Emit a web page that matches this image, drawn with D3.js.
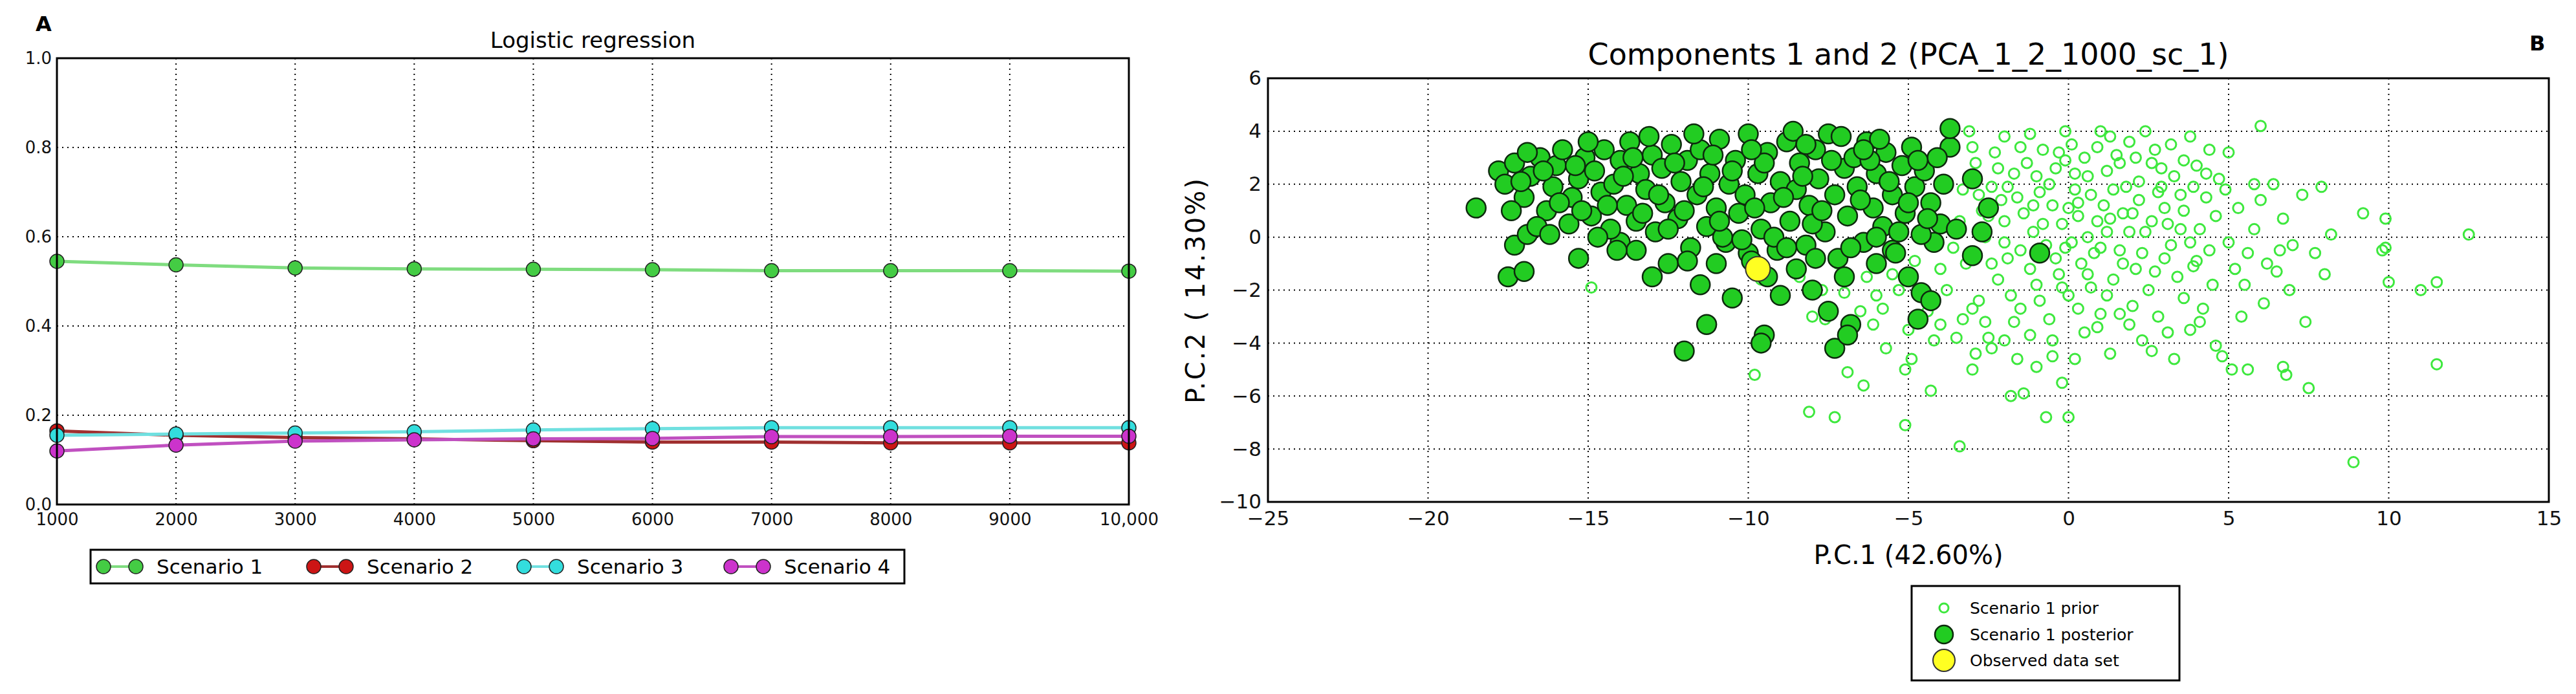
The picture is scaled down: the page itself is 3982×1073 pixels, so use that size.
<!DOCTYPE html>
<html><head><meta charset="utf-8">
<script src="https://cdn.jsdelivr.net/npm/d3@7"></script>
<style>body{margin:0;background:#fff}text{font-family:"DejaVu Sans",sans-serif}</style>
</head><body><svg id="c" width="3982" height="1073"></svg>
<script>
// panel A data
var steps = [1000,2000,3000,4000,5000,6000,7000,8000,9000,10000];
var stepLabels = ["1000","2000","3000","4000","5000","6000","7000","8000","9000","10,000"];
var scenario1 = [0.545,0.537,0.530,0.528,0.527,0.526,0.524,0.524,0.524,0.523];
var scenario2 = [0.165,0.155,0.150,0.147,0.143,0.140,0.140,0.138,0.138,0.138];
var scenario3 = [0.155,0.158,0.160,0.163,0.167,0.170,0.172,0.172,0.172,0.172];
var scenario4 = [0.120,0.133,0.142,0.145,0.147,0.148,0.152,0.152,0.153,0.153];
var seriesNames = ["Scenario 1","Scenario 2","Scenario 3","Scenario 4"];

// panel B data
var posterior = [[-18.5,1.1],[-17.5,-1.5],[-17,-1.3],[-17.3,-0.3],[-16.9,0.1],[-15.3,-0.8],[-13,-1.5],[-12,-4.3],[-11.3,-3.3],[-10.5,-2.3],[-9.5,-3.7],[-9.6,-4.0],[-9,-2.2],[-8,-2.0],[-7.5,-2.8],[-7.3,-4.2],[-6.8,-3.3],[-6.9,-3.7],[-5,-1.5],[-4.6,-2.1],[-4.7,-3.1],[-4.3,-2.4],[-3,-0.7],[-2.7,0.2],[-2.5,1.1],[-3,2.2],[-3.7,3.4],[-3.7,4.1],[-0.9,-0.6],[-12.5,-1.0],[-11.5,-1.8],[-14,-0.2],[-7,-1.5],[-8.5,-1.2],[-6,-1.0],[-5.5,-0.5],[-10,-0.6],[-11,-1],[-13.5,-0.5],[-4.2,-0.2],[-4,0.5],[-3.5,0.3],
[-17.8,2.5],[-17.6,2.0],[-17.3,2.8],[-17.0,1.5],[-16.8,2.3],[-16.5,3.0],[-16.3,1.0],[-16.1,1.9],[-16.0,2.7],[-15.8,3.3],[-15.6,0.5],[-15.5,1.5],[-15.3,2.2],[-15.1,3.0],[-14.9,0.8],[-14.8,2.5],[-14.6,1.7],[-14.5,3.3],[-14.3,0.3],[-14.2,2.0],[-14.0,2.9],[-13.8,1.2],[-13.7,3.6],[-13.5,0.6],[-13.4,2.4],[-13.2,1.8],[-13.0,3.1],[-12.9,0.2],[-12.7,2.6],[-12.6,1.3],[-12.4,3.5],[-12.2,0.7],[-12.1,2.1],[-11.9,2.9],[-11.8,-0.4],[-11.6,1.6],[-11.5,3.3],[-11.3,0.4],[-11.2,2.4],[-11.0,1.1],[-10.9,3.7],[-10.7,-0.2],[-10.6,2.0],[-10.4,2.9],[-10.3,0.9],[-10.1,1.6],[-10.0,3.9],[-9.9,-0.9],[-9.7,2.4],[-9.6,0.3],[-9.4,3.2],[-9.3,1.3],[-9.1,-0.5],[-9.0,2.1],[-8.8,3.6],[-8.7,0.6],[-8.5,1.8],[-8.4,2.8],[-8.2,-0.3],[-8.1,1.2],[-7.9,3.3],[-7.8,2.2],[-7.6,0.2],[-7.5,3.9],[-7.3,1.6],[-7.2,-0.8],[-7.0,2.6],[-6.9,0.8],[-6.7,3.0],[-6.6,1.9],[-6.4,-0.2],[-6.3,3.6],[-6.1,1.1],[-6.0,2.4],[-5.8,0.4],[-5.7,3.2],[-5.5,1.6],[-5.4,-0.6],[-5.2,2.7],[-5.1,0.9],[-4.9,3.4],[-4.8,1.9],[-4.6,0.1],[-4.5,2.5],[-4.3,1.3],[-4.1,3.0],[-3.9,2.0],[-16.9,3.2],[-15.0,3.6],[-13.1,3.8],[-11.7,3.9],[-8.6,4.0],[-7.1,3.8],[-5.9,3.7],[-12.0,1.0],[-10.8,0.0],[-9.2,0.0],[-8.0,0.5],[-6.8,-0.4],[-14.7,0.0],[-16.6,0.4],[-17.4,1.0],
[-17.1,2.1],[-16.4,2.5],[-15.9,1.3],[-15.2,1.0],[-14.4,1.2],[-13.9,2.3],[-13.3,0.9],[-12.8,1.6],[-12.3,2.8],[-11.4,1.9],[-10.9,0.6],[-10.5,2.5],[-9.8,1.1],[-9.5,2.8],[-8.9,1.5],[-8.3,2.3],[-7.7,1.0],[-7.4,2.9],[-6.5,1.4],[-6.2,2.9],[-5.6,2.1],[-5.0,1.3],[-4.7,2.9],[-4.4,0.7],[-13.6,3.0],[-11.1,3.1],[-9.9,3.3],[-8.2,3.5],[-6.4,3.3],[-15.4,2.7],[-12.5,0.3],[-10.2,-0.1],[-7.9,-0.8],[-6.0,0.0],[-16.2,0.1],[-14.1,-0.5],[-11.9,-0.9],[-9.4,-1.5],[-8.8,-0.4],[-5.3,0.2]];
var prior = [[-9.8,-5.2],[-8.1,-6.6],[-7.3,-6.8],[-5.1,-7.1],[-3.4,-7.9],[-6.4,-5.6],[-5.1,-5.0],[-4.3,-5.8],[-6.9,-5.1],[-3.0,-5.0],[-2.4,-4.2],[-1.8,-6.0],[-1.4,-5.9],[-0.7,-6.8],[0.0,-6.8],[-0.2,-5.5],[-0.5,-4.5],[0.2,-4.6],[-1.0,-4.9],[-1.6,-4.6],[-2.0,-3.9],[-2.6,-3.2],[-3.5,-3.8],[-4.0,-3.3],[-5.0,-3.5],[-5.7,-4.2],[-6.1,-3.3],[-6.5,-2.8],[-7.0,-2.1],[-7.6,-3.1],[-8.0,-3.0],[-8.4,-1.5],[-7.2,-1.0],[-6.0,-2.2],[-5.5,-1.4],[-4.4,-2.8],[-3.8,-2.0],[-3.2,-1.0],[-2.8,-2.4],[-2.2,-1.6],[-1.5,-2.7],[-1.0,-1.8],[-0.6,-3.1],[0.0,-2.2],[0.5,-3.6],[1.0,-2.9],[1.3,-4.4],[1.9,-3.3],[2.3,-3.9],[2.8,-3.0],[3.3,-4.6],[3.8,-3.5],[4.2,-2.7],[4.6,-4.1],[4.8,-4.5],[5.1,-5.0],[5.6,-5.0],[5.5,-1.8],[6.1,-2.5],[6.7,-4.9],[6.8,-5.2],[7.5,-5.7],[7.4,-3.2],[8.0,-1.4],[8.9,-8.5],[11.0,-2.0],[11.5,-1.7],[11.5,-4.8],[12.5,0.1],[9.9,-0.4],[10.0,-1.7],[9.2,0.9],[9.9,0.7],[9.8,-0.5],[8.2,0.1],[7.7,-0.6],[7.9,1.9],[7.3,1.6],[6.7,0.7],[6.5,-1.3],[6.4,2.0],[6.0,4.2],[5.8,2.0],[5.3,1.1],[5.0,3.2],[5.0,-0.2],[4.6,0.8],[4.3,2.4],[4.0,-0.9],[3.8,3.8],[3.5,1.6],[3.2,-0.3],[2.9,2.6],[2.6,0.6],[2.4,4.0],[2.1,-1.2],[1.8,1.9],[1.5,3.1],[1.2,0.2],[1.0,4.0],[0.8,-0.6],[0.6,2.3],[0.3,1.3],[0.1,3.5],[-0.2,0.5],[-0.4,2.6],[-0.7,-0.3],[-0.9,1.7],[-1.2,3.9],[-1.4,0.9],[-1.7,2.4],[-1.9,-0.8],[-2.1,1.4],[-2.3,3.2],[-2.6,0.0],[-2.9,2.8],[-3.1,4.0],[-3.3,1.8],[-3.6,-0.4],[-4.0,-1.2],[-4.8,-0.9],[-5.3,-2.0],[-6.3,-1.5],[-7.7,-2.0],[-9.6,-1.6],[-14.9,-1.9],[0.2,1.8],[0.6,0.0],[1.6,2.8],[2.0,0.9],[2.5,-2.0],[3.0,1.1],[3.6,2.9],[4.1,0.3],[-0.1,2.9],[-0.5,1.2],[-1.0,2.3],[-1.5,-0.5],[-2.0,0.6],[-2.4,1.9],[-0.3,-1.4],[0.4,-1.0],[1.1,1.2],[1.4,-1.6],[2.2,2.1],[2.7,3.3],[3.4,-1.5],[4.5,-1.8],[5.4,-3.0],[6.2,-1.0],[6.9,-2.0],[0.9,3.4],[-0.8,3.3],[-1.8,-2.2],[-2.5,-3.8],[-3.0,-2.7],[-4.2,-3.9],[-1.2,-3.7],[0.7,-1.9],[1.6,-0.5],[2.0,-2.6],[3.1,-3.6],[4.4,-0.5],[5.8,0.3],[7.0,-0.3],[-0.1,-0.4],[0.3,0.8],[-1.1,0.2],[1.9,0.2],[2.8,1.7],[3.9,1.9],[-1.6,1.5],[-2.7,1.0],
[-0.6,2.0],[-0.3,3.2],[0.0,1.1],[0.2,2.4],[0.5,3.0],[0.7,1.6],[0.9,0.6],[1.2,2.5],[1.4,1.8],[1.7,0.9],[1.9,3.6],[2.2,1.4],[2.4,0.2],[2.6,2.8],[2.9,1.9],[3.1,0.5],[3.3,2.3],[3.6,1.0],[3.8,-0.2],[4.0,2.7],[4.3,1.5],[4.7,2.2],[-1.3,2.8],[-1.1,1.2],[-0.8,0.5],[-1.5,3.4],[-1.9,1.9],[-2.2,2.6],[-2.0,-0.2],[-2.5,0.8],[-2.8,1.6],[-0.4,-0.8],[0.1,-0.2],[0.6,-1.4],[1.0,-0.4],[1.3,0.7],[1.7,-1.0],[2.3,-0.6],[2.7,-1.3],[3.0,-0.8],[3.5,0.3],[3.9,-1.1],[-1.2,-1.2],[-0.9,-2.4],[-0.2,-1.9],[0.3,-2.7],[1.2,-2.2],[1.6,-2.9],[-2.4,-1.0],[-3.4,0.6],[-3.0,3.4],[-2.0,3.8],[-0.1,4.0],[1.3,3.8],[2.1,3.0],[3.2,3.5],[4.4,3.3],[4.9,1.8],[5.2,-1.2],[5.6,-0.6],[6.0,1.4],[6.6,-0.5],[-0.5,-3.9],[0.9,-3.4],[2.6,-4.3],[3.6,-2.3],[4.1,-3.2],[-1.7,-3.2],[-3.3,-3.1],[-5.8,-2.7],[-4.9,-4.6],[-2.9,-4.4]];
var observed = [[-9.7,-1.2]];

var svg = d3.select("#c");

// ---------- panel A ----------
var ax = {left:88, right:1745, top:90, bottom:780};
var xA = d3.scaleLinear().domain([1000,10000]).range([ax.left, ax.right]);
var yA = d3.scaleLinear().domain([0,1]).range([ax.bottom, ax.top]);
var gA = svg.append("g");

gA.append("g").selectAll("line").data(steps.slice(1,-1)).enter().append("line")
	.attr("x1", d => xA(d)).attr("x2", d => xA(d)).attr("y1", ax.top).attr("y2", ax.bottom)
	.attr("stroke", "#000").attr("stroke-width", 2).attr("stroke-dasharray", "2,6");
gA.append("g").selectAll("line").data([0.2,0.4,0.6,0.8]).enter().append("line")
	.attr("x1", ax.left).attr("x2", ax.right).attr("y1", d => yA(d)).attr("y2", d => yA(d))
	.attr("stroke", "#000").attr("stroke-width", 2).attr("stroke-dasharray", "2,6");

gA.append("g").attr("transform", "translate(0," + ax.bottom + ")")
	.call(d3.axisBottom(xA).tickValues(steps).tickFormat((d, i) => stepLabels[i]).tickSize(0).tickPadding(14))
	.call(g => g.select(".domain").remove())
	.selectAll("text").attr("font-size", 26).attr("fill", "#111");
gA.append("g").attr("transform", "translate(" + ax.left + ",0)")
	.call(d3.axisLeft(yA).tickValues([0,0.2,0.4,0.6,0.8,1]).tickFormat(d3.format(".1f")).tickSize(0).tickPadding(8))
	.call(g => g.select(".domain").remove())
	.selectAll("text").attr("font-size", 26).attr("fill", "#111");

var colorsA = [["#44cc44","#7fdc7f"],["#cc1515","#a03030"],["#33dddd","#70e0e0"],["#cc33cc","#c050c0"]];
var allSeries = [scenario1, scenario2, scenario3, scenario4];
var line = d3.line().x((d, i) => xA(steps[i])).y(d => yA(d));
gA.append("g").selectAll("path").data(allSeries).enter().append("path")
	.attr("d", line).attr("fill", "none").attr("stroke", (d, i) => colorsA[i][1]).attr("stroke-width", 5);
allSeries.forEach(function(s, k) {
	gA.append("g").selectAll("circle").data(s).enter().append("circle")
		.attr("cx", (d, i) => xA(steps[i])).attr("cy", d => yA(d)).attr("r", 11)
		.attr("fill", colorsA[k][0]).attr("stroke", "#222").attr("stroke-width", 1.5);
});
gA.append("rect").attr("x", ax.left).attr("y", ax.top).attr("width", ax.right - ax.left).attr("height", ax.bottom - ax.top)
	.attr("fill", "none").attr("stroke", "#000").attr("stroke-width", 3);
gA.append("text").attr("x", (ax.left + ax.right) / 2).attr("y", 74).attr("text-anchor", "middle")
	.attr("font-size", 34).text("Logistic regression");
gA.append("text").attr("x", 55).attr("y", 48).attr("font-family", "Liberation Serif").attr("font-weight", "bold")
	.attr("font-size", 32).text("A");

// legend A
var lgA = gA.append("g");
lgA.append("rect").attr("x", 140).attr("y", 850).attr("width", 1258).attr("height", 52)
	.attr("fill", "#fff").attr("stroke", "#000").attr("stroke-width", 3);
var legX = [160, 485, 810, 1130];
seriesNames.forEach(function(n, i) {
	var g = lgA.append("g").attr("transform", "translate(" + legX[i] + ",876)");
	g.append("line").attr("x1", 0).attr("x2", 50).attr("stroke", colorsA[i][1]).attr("stroke-width", 4);
	[0, 50].forEach(function(cx) {
		g.append("circle").attr("cx", cx).attr("r", 11).attr("fill", colorsA[i][0]).attr("stroke", "#222").attr("stroke-width", 1.5);
	});
	g.append("text").attr("x", 82).attr("y", 11).attr("font-size", 31).text(n);
});

// ---------- panel B ----------
var bx = {left:1960, right:3940, top:121, bottom:776};
var xB = d3.scaleLinear().domain([-25,15]).range([bx.left, bx.right]);
var yB = d3.scaleLinear().domain([-10,6]).range([bx.bottom, bx.top]);
var gB = svg.append("g");

gB.append("g").selectAll("line").data(d3.range(-20, 15, 5)).enter().append("line")
	.attr("x1", d => xB(d)).attr("x2", d => xB(d)).attr("y1", bx.top).attr("y2", bx.bottom)
	.attr("stroke", "#000").attr("stroke-width", 2).attr("stroke-dasharray", "2,6");
gB.append("g").selectAll("line").data(d3.range(-8, 6, 2)).enter().append("line")
	.attr("x1", bx.left).attr("x2", bx.right).attr("y1", d => yB(d)).attr("y2", d => yB(d))
	.attr("stroke", "#000").attr("stroke-width", 2).attr("stroke-dasharray", "2,6");

gB.append("g").attr("transform", "translate(0," + bx.bottom + ")")
	.call(d3.axisBottom(xB).tickValues(d3.range(-25, 16, 5)).tickFormat(d => d < 0 ? "\u2212" + (-d) : d).tickSize(0).tickPadding(14))
	.call(g => g.select(".domain").remove())
	.selectAll("text").attr("font-size", 31).attr("fill", "#111");
gB.append("g").attr("transform", "translate(" + bx.left + ",0)")
	.call(d3.axisLeft(yB).tickValues(d3.range(-10, 7, 2)).tickFormat(d => d < 0 ? "\u2212" + (-d) : d).tickSize(0).tickPadding(10))
	.call(g => g.select(".domain").remove())
	.selectAll("text").attr("font-size", 31).attr("fill", "#111");

gB.append("g").selectAll("circle").data(prior).enter().append("circle")
	.attr("cx", d => xB(d[0])).attr("cy", d => yB(d[1])).attr("r", 8)
	.attr("fill", "none").attr("stroke", "#3ee83e").attr("stroke-width", 3);
gB.append("g").selectAll("circle").data(posterior).enter().append("circle")
	.attr("cx", d => xB(d[0])).attr("cy", d => yB(d[1])).attr("r", 15)
	.attr("fill", "#22cc22").attr("stroke", "#0d2a0d").attr("stroke-width", 2.5);
gB.append("g").selectAll("circle").data(observed).enter().append("circle")
	.attr("cx", d => xB(d[0])).attr("cy", d => yB(d[1])).attr("r", 19)
	.attr("fill", "#ffff22").attr("stroke", "#333").attr("stroke-width", 2);

gB.append("rect").attr("x", bx.left).attr("y", bx.top).attr("width", bx.right - bx.left).attr("height", bx.bottom - bx.top)
	.attr("fill", "none").attr("stroke", "#000").attr("stroke-width", 3);
gB.append("text").attr("x", (bx.left + bx.right) / 2).attr("y", 100).attr("text-anchor", "middle")
	.attr("font-size", 46).text("Components 1 and 2 (PCA_1_2_1000_sc_1)");
gB.append("text").attr("x", 3910).attr("y", 78).attr("font-family", "Liberation Serif").attr("font-weight", "bold")
	.attr("font-size", 32).text("B");
gB.append("text").attr("x", (bx.left + bx.right) / 2).attr("y", 872).attr("text-anchor", "middle")
	.attr("font-size", 40).text("P.C.1 (42.60%)");
gB.append("text").attr("transform", "translate(1862," + (bx.top + bx.bottom) / 2 + ") rotate(-90)")
	.attr("text-anchor", "middle").attr("font-size", 40).attr("letter-spacing", 3).text("P.C.2 (   14.30%)");

// legend B
var lgB = gB.append("g");
lgB.append("rect").attr("x", 2955).attr("y", 906).attr("width", 414).attr("height", 146)
	.attr("fill", "#fff").attr("stroke", "#000").attr("stroke-width", 3);
var legB = [["Scenario 1 prior", 940], ["Scenario 1 posterior", 981], ["Observed data set", 1021]];
lgB.append("circle").attr("cx", 3005).attr("cy", legB[0][1]).attr("r", 7).attr("fill", "none").attr("stroke", "#3ee83e").attr("stroke-width", 3);
lgB.append("circle").attr("cx", 3005).attr("cy", legB[1][1]).attr("r", 14).attr("fill", "#22cc22").attr("stroke", "#0d2a0d").attr("stroke-width", 2.5);
lgB.append("circle").attr("cx", 3005).attr("cy", legB[2][1]).attr("r", 17).attr("fill", "#ffff22").attr("stroke", "#333").attr("stroke-width", 2);
legB.forEach(function(l) {
	lgB.append("text").attr("x", 3045).attr("y", l[1] + 9).attr("font-size", 25).text(l[0]);
});
</script></body></html>
